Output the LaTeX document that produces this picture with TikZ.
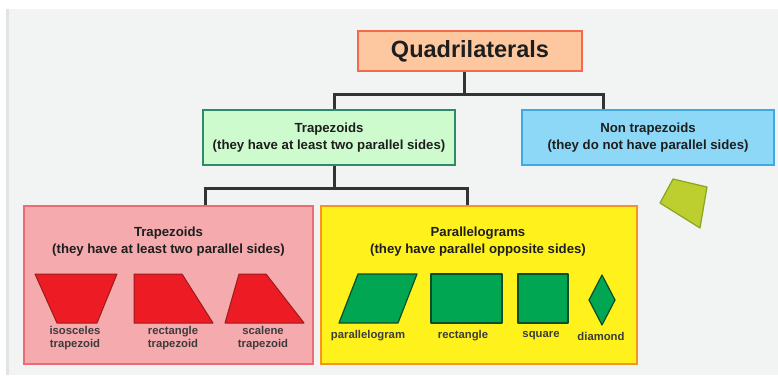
\documentclass[tikz,border=0pt]{standalone}
\usepackage{fontspec}
\setmainfont{Liberation Sans}
\definecolor{panel}{HTML}{F2F3F3}
\definecolor{panelrim}{HTML}{E2E3E3}
\definecolor{wire}{HTML}{333333}
\definecolor{ink}{HTML}{1E1E1E}
\definecolor{inklight}{HTML}{3C3C3C}
\definecolor{peach}{HTML}{FDC8A0}
\definecolor{peachrim}{HTML}{F26B4A}
\definecolor{mint}{HTML}{CDFBCD}
\definecolor{mintrim}{HTML}{2E8B6A}
\definecolor{sky}{HTML}{8DD7F7}
\definecolor{skyrim}{HTML}{3FA9E6}
\definecolor{rose}{HTML}{F5AAAE}
\definecolor{roserim}{HTML}{EE6A74}
\definecolor{lemon}{HTML}{FFF21C}
\definecolor{lemonrim}{HTML}{F7931E}
\definecolor{trapred}{HTML}{ED1C24}
\definecolor{trapredrim}{HTML}{9B1B1B}
\definecolor{paragreen}{HTML}{00A651}
\definecolor{paragreenrim}{HTML}{0A4F2A}
\definecolor{olive}{HTML}{BCCF2E}
\definecolor{oliverim}{HTML}{8CA320}
\tikzset{
  box/.style = {draw, line width=1.5pt, align=center, inner sep=0pt, text=ink,
    font=\bfseries\fontsize{13.2}{17}\selectfont},
  title/.style = {align=center, inner sep=0pt, text=ink, font=\bfseries\fontsize{13.2}{17}\selectfont},
  tag/.style = {align=center, inner sep=0pt, text=inklight, font=\bfseries\fontsize{11.3}{13}\selectfont},
  tree/.style = {draw=wire, line width=3pt},
  redshape/.style = {fill=trapred, draw=trapredrim, line width=1pt, line join=round},
  greenshape/.style = {fill=paragreen, draw=paragreenrim, line width=1.2pt, line join=round},
}

\begin{document}
\begin{tikzpicture}[x=1pt, y=-1pt]
  \useasboundingbox (0,0) rectangle (778,375);
  \fill[white] (0,0) rectangle (778,375);
  \fill[panel] (6,9) rectangle (778,375);
  \fill[panelrim] (6,9) rectangle (9,375);

  \node[box, fill=peach, draw=peachrim, minimum width=224pt, minimum height=40pt,
    font=\bfseries\fontsize{23.5}{26}\selectfont] (quad) at (470,51) {Quadrilaterals};
  \node[box, fill=mint, draw=mintrim, minimum width=252pt, minimum height=55pt] (trap) at (329,137.5)
    {Trapezoids\\(they have at least two parallel sides)};
  \node[box, fill=sky, draw=skyrim, minimum width=252pt, minimum height=55pt] (nontrap) at (648,137.5)
    {Non trapezoids\\(they do not have parallel sides)};
  \node[box, fill=rose, draw=roserim, minimum width=289pt, minimum height=158pt] (pinkbox) at (168.5,285) {};
  \node[box, fill=lemon, draw=lemonrim, minimum width=316pt, minimum height=158pt] (yellowbox) at (479,285) {};

  \coordinate (qa) at (464,94);
  \coordinate (ta) at (334,94);
  \coordinate (na) at (603,94);
  \coordinate (tb) at (334,188);
  \coordinate (pb) at (205,188);
  \coordinate (yb) at (467,188);
  \draw[tree] (quad.south -| qa) -- (qa);
  \draw[tree] (trap.north -| ta) -- (ta) -- (na) -- (nontrap.north -| na);
  \draw[tree] (trap.south -| tb) -- (tb);
  \draw[tree] (pinkbox.north -| pb) -- (pb) -- (yb) -- (yellowbox.north -| yb);

  \node[title] (pinktitle) at (168.5,241.5) {Trapezoids\\(they have at least two parallel sides)};
  \node[title] (yellowtitle) at (478,241.5) {Parallelograms\\(they have parallel opposite sides)};

  \draw[redshape] (35,274) -- (117,274) -- (97,323) -- (57,323) -- cycle;
  \draw[redshape] (134,274) -- (182,274) -- (213,323) -- (134,323) -- cycle;
  \draw[redshape] (239,274) -- (266,274) -- (304,323) -- (225,323) -- cycle;
  \node[tag] (isosceles) at (75,338.5) {isosceles\\trapezoid};
  \node[tag] (righttrap) at (173,338.5) {rectangle\\trapezoid};
  \node[tag] (scalene) at (263,338.5) {scalene\\trapezoid};

  \draw[greenshape] (358,274) -- (417,274) -- (398,323) -- (339,323) -- cycle;
  \draw[greenshape] (431,274) rectangle (502,323);
  \draw[greenshape] (518,274) rectangle (568,323);
  \draw[greenshape] (602,275) -- (615,300) -- (602,325) -- (589,300) -- cycle;
  \node[tag] (para) at (368,336) {parallelogram};
  \node[tag] (rect) at (463,336) {rectangle};
  \node[tag] (square) at (541,336) {square};
  \node[tag] (diamond) at (601,336) {diamond};

  \draw[fill=olive, draw=oliverim, line width=1.2pt, line join=round]
    (673,179) -- (707,187) -- (700,228) -- (660,203) -- cycle;
\end{tikzpicture}
\end{document}
